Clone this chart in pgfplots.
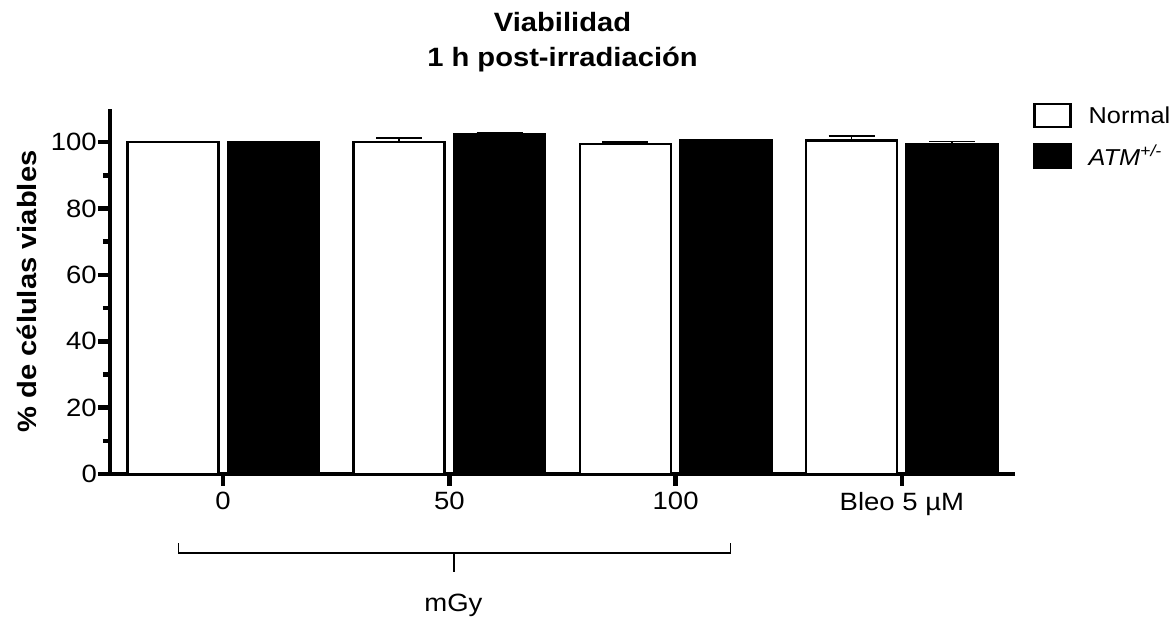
\documentclass[border=0pt]{standalone}
\usepackage{fontspec}
\setmainfont{Liberation Sans}[FakeStretch=1.1]
\usepackage{pgfplots}
\pgfplotsset{compat=1.18}
\begin{document}
\begin{tikzpicture}
\useasboundingbox (-110pt,-143pt) rectangle (1061pt,474pt);
\begin{axis}[
  scale only axis, width=905pt, height=365pt,
  xmin=-0.5, xmax=3.5, ymin=0, ymax=110,
  enlargelimits=false,
  clip=false,
  axis x line=bottom, axis y line=left,
  axis line style={line width=4.5pt, -},
  ybar, bar width=0.403,
  xtick={0,1,2,3}, xticklabels={0,50,100,Bleo 5 µM},
  ytick={0,20,...,100}, minor ytick={10,30,...,90},
  tick align=outside,
  major tick length=12pt, minor tick length=7pt,
  every tick/.style={line width=4.5pt, black},
  /pgf/number format/assume math mode=true,
  tick label style={font=\fontsize{25}{30}\selectfont},
  yticklabel style={anchor=east, inner sep=0pt, xshift=-1pt},
  xticklabel style={anchor=north, inner sep=0pt, yshift=-6pt},
  legend style={at={(rel axis cs:1,1)}, anchor=north west, xshift=18pt, yshift=6.5pt,
    draw=none, fill=none, inner sep=0pt, row sep=15pt,
    nodes={inner sep=0pt},
    font=\fontsize{23}{27}\selectfont,
    /tikz/every odd column/.append style={column sep=17pt}},
  legend cell align=left,
  legend image code/.code={\draw[#1,/tikz/.cd,line width=2.5pt] (0pt,-11.5pt) rectangle (36pt,11.5pt);},
  error bars/error bar style={line width=1.5pt, black},
  error bars/error mark options={rotate=90, line width=1.5pt, black, mark size=23pt},
]
\addplot[draw=black, fill=white, line width=2.5pt, bar shift=-0.222,
  error bars/.cd, y dir=plus, y explicit]
  coordinates {(0,100) +- (0,0) (1,100) +- (0,1.3) (2,99.5) +- (0,0.5) (3,100.5) +- (0,1.3)};
\addlegendentry{Normal}
\addplot[draw=black, fill=black, line width=2.5pt, bar shift=0.222,
  error bars/.cd, y dir=plus, y explicit]
  coordinates {(0,100) +- (0,0) (1,102.3) +- (0,0.6) (2,100.5) +- (0,0) (3,99.3) +- (0,0.9)};
\addlegendentry{\textit{ATM\textsuperscript{+/-}}}

\node[anchor=base, yshift=77pt, font=\bfseries\fontsize{26.5}{31}\selectfont] at (rel axis cs:0.5,1) {Viabilidad};
\node[anchor=base, yshift=42pt, font=\bfseries\fontsize{26.5}{31}\selectfont] at (rel axis cs:0.5,1) {1 h post-irradiación};
\node[xshift=-83pt, rotate=90, font=\bfseries\fontsize{26.5}{31}\selectfont] at (rel axis cs:0,0.5) {\% de células viables};

\draw[line width=1.2pt] (axis cs:-0.198,-20.8) -- (axis cs:-0.198,-23.8) -- (axis cs:2.242,-23.8) -- (axis cs:2.242,-20.8);
\draw[line width=1.2pt] (axis cs:1.02,-23.8) -- (axis cs:1.02,-29.4);
\node[anchor=base, font=\fontsize{25}{30}\selectfont] at (axis cs:1.018,-41.4) {mGy};
\end{axis}
\end{tikzpicture}
\end{document}
